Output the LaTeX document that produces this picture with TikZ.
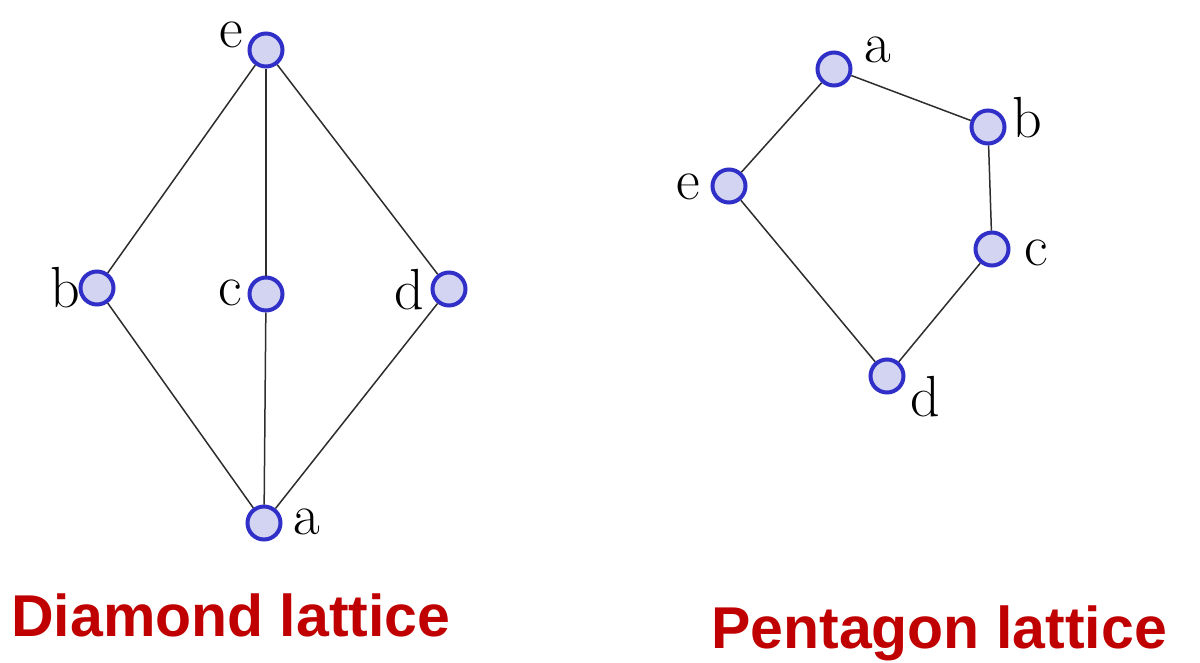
\documentclass[tikz,border=0pt]{standalone}
\usepackage{fontspec}
\newfontfamily\titlefont{Liberation Sans}
\definecolor{nodefill}{RGB}{210,212,242}
\definecolor{nodeline}{RGB}{48,48,200}
\definecolor{edgecol}{RGB}{45,45,45}
\definecolor{titlered}{RGB}{192,0,0}
\begin{document}
\begin{tikzpicture}[x=1pt,y=-1pt,
  vert/.style={circle,draw=nodeline,fill=nodefill,line width=4pt,minimum size=33pt,inner sep=0pt},
  lbl/.style={inner sep=0pt,font=\fontsize{58}{60}\selectfont},
  edge/.style={draw=edgecol,line width=1.5pt},
  ttl/.style={inner sep=0pt,anchor=base west,text=titlered,font=\titlefont\bfseries\fontsize{59}{62}\selectfont}]
\useasboundingbox (0,0) rectangle (1200,662);
% Diamond lattice
\node[vert] (De) at (266,50) {};
\node[vert] (Db) at (97,288) {};
\node[vert] (Dc) at (266,294) {};
\node[vert] (Dd) at (449,289) {};
\node[vert] (Da) at (264,523) {};
\draw[edge] (De) -- (Db);
\draw[edge] (De) -- (Dc);
\draw[edge] (De) -- (Dd);
\draw[edge] (Db) -- (Da);
\draw[edge] (Dc) -- (Da);
\draw[edge] (Dd) -- (Da);
\node[lbl] (DLe) at (231,35) {e};
\node[lbl] (DLb) at (65,288) {b};
\node[lbl] (DLc) at (230,293) {c};
\node[lbl] (DLd) at (409,290) {d};
\node[lbl] (DLa) at (307,522) {a};
% Pentagon lattice
\node[vert] (Pa) at (834,69) {};
\node[vert] (Pb) at (988,127) {};
\node[vert] (Pc) at (992,249) {};
\node[vert] (Pd) at (887,376) {};
\node[vert] (Pe) at (729,186) {};
\draw[edge] (Pa) -- (Pb);
\draw[edge] (Pb) -- (Pc);
\draw[edge] (Pc) -- (Pd);
\draw[edge] (Pd) -- (Pe);
\draw[edge] (Pe) -- (Pa);
\node[lbl] (PLa) at (878,50) {a};
\node[lbl] (PLb) at (1027,118) {b};
\node[lbl] (PLc) at (1036,253) {c};
\node[lbl] (PLd) at (925,397) {d};
\node[lbl] (PLe) at (688,187) {e};
% Titles
\node[ttl] (T1) at (11,636) {Diamond lattice};
\node[ttl] (T2) at (711,648) {Pentagon lattice};
\end{tikzpicture}
\end{document}
